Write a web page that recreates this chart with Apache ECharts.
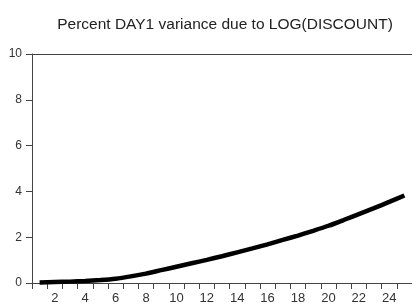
<!DOCTYPE html>
<html>
<head>
<meta charset="utf-8">
<script src="https://cdn.jsdelivr.net/npm/echarts@6/dist/echarts.min.js"></script>
<style>
  html, body { margin: 0; padding: 0; background: #fff; }
  #main { width: 412px; height: 306px; }
</style>
</head>
<body>
<div id="main"></div>
<script>
var periods = ['1','2','3','4','5','6','7','8','9','10','11','12','13','14','15','16','17','18','19','20','21','22','23','24','25'];
var variancePct = [0.02, 0.04, 0.06, 0.09, 0.13, 0.19, 0.29, 0.41, 0.56, 0.71, 0.86, 1.01, 1.17, 1.34, 1.51, 1.69, 1.88, 2.07, 2.28, 2.50, 2.75, 3.01, 3.27, 3.54, 3.82];
var yTicks = [0, 2, 4, 6, 8, 10];

var myChart = echarts.init(document.getElementById('main'));
var option = {
    animation: false,
    backgroundColor: '#fff',
    title: {
        text: 'Percent DAY1 variance due to LOG(DISCOUNT)',
        left: 220,
        textAlign: 'center',
        top: 12,
        textStyle: {
            fontFamily: 'Liberation Sans',
            fontSize: 15.5,
            fontWeight: 'normal',
            color: '#222'
        }
    },
    grid: {
        left: 32,
        right: 0,
        top: 54,
        bottom: 23
    },
    xAxis: [
        {
            type: 'category',
            data: periods,
            boundaryGap: true,
            axisLine: { lineStyle: { color: '#444', width: 1 } },
            axisTick: { show: true, interval: 0, length: 6, lineStyle: { color: '#444' } },
            axisLabel: {
                interval: function (idx) { return idx % 2 === 1; },
                fontFamily: 'Liberation Sans',
                fontSize: 13,
                color: '#333',
                margin: 9
            },
            splitLine: { show: false }
        },
        {
            type: 'category',
            data: periods,
            position: 'top',
            axisLine: { lineStyle: { color: '#444', width: 1 } },
            axisTick: { show: false },
            axisLabel: { show: false },
            splitLine: { show: false }
        }
    ],
    yAxis: {
        type: 'value',
        min: yTicks[0],
        max: yTicks[yTicks.length - 1],
        interval: 2,
        axisLine: { show: true, lineStyle: { color: '#444', width: 1 } },
        axisTick: { show: true, length: 6, lineStyle: { color: '#444' } },
        axisLabel: {
            fontFamily: 'Liberation Sans',
            fontSize: 12,
            color: '#333',
            margin: 10
        },
        splitLine: { show: false }
    },
    series: [
        {
            name: 'DAY1',
            type: 'line',
            data: variancePct,
            symbol: 'none',
            smooth: 0.2,
            lineStyle: { color: '#000', width: 4.5 },
            itemStyle: { color: '#000' }
        }
    ]
};
myChart.setOption(option);
</script>
</body>
</html>
